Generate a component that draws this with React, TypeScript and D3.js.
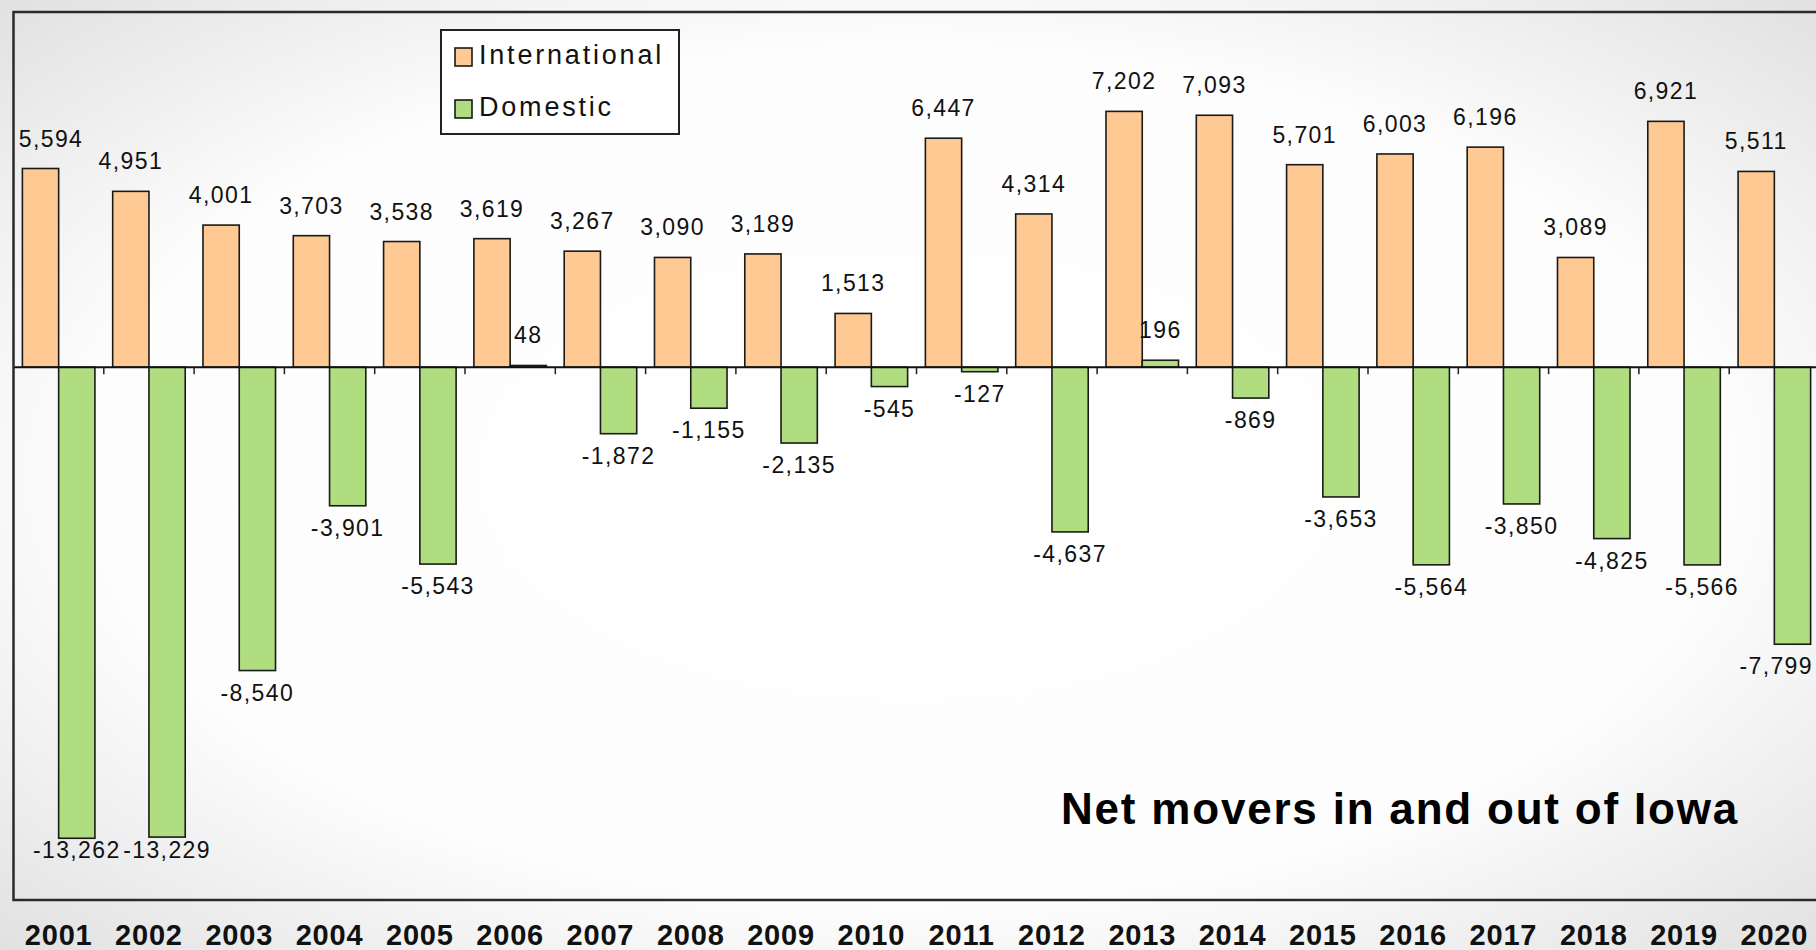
import * as d3 from "d3";

const years = ["2001", "2002", "2003", "2004", "2005", "2006", "2007", "2008", "2009", "2010",
  "2011", "2012", "2013", "2014", "2015", "2016", "2017", "2018", "2019", "2020"];
const international = [5594, 4951, 4001, 3703, 3538, 3619, 3267, 3090, 3189, 1513,
  6447, 4314, 7202, 7093, 5701, 6003, 6196, 3089, 6921, 5511];
const domestic = [-13262, -13229, -8540, -3901, -5543, 48, -1872, -1155, -2135, -545,
  -127, -4637, 196, -869, -3653, -5564, -3850, -4825, -5566, -7799];
const seriesNames = ["International", "Domestic"];
const seriesColors = ["#ffc994", "#b0dd80"];
const yDomain = [-15000, 10000];
const title = "Net movers in and out of Iowa";

const W = 1816;
const H = 950;
const plot = { left: 13.5, top: 12, bottom: 900, step: 90.3 };

// hyphen minus like the original, not U+2212
const locale = d3.formatLocale({ decimal: ".", thousands: ",", grouping: [3], currency: ["$", ""], minus: "-" });
const fmt = locale.format(",");

export default function App() {
  const x = d3.scaleBand()
    .domain(years)
    .range([plot.left, plot.left + plot.step * years.length]);
  const xs = d3.scaleBand()
    .domain(seriesNames)
    .range([0, x.bandwidth()])
    .paddingOuter(0.245);
  const y = d3.scaleLinear().domain(yDomain).range([plot.bottom, plot.top]);
  const y0 = y(0);

  const rows = years.map((yr, i) => ({ yr, vals: [international[i], domestic[i]] }));

  const labelX = (cx: number, txt: string) => {
    const half = txt.length * 6.3;
    return Math.min(Math.max(cx, plot.left + half + 6), W - half - 2);
  };

  return (
    <svg width={W} height={H} style={{ position: "absolute", left: 0, top: 0 }}
      fontFamily="'Liberation Sans', Arial, sans-serif">
      <defs>
        <radialGradient id="bg" cx="50%" cy="50%" r="75%">
          <stop offset="0%" stopColor="#ffffff" />
          <stop offset="60%" stopColor="#fdfdfd" />
          <stop offset="100%" stopColor="#dcdcdc" />
        </radialGradient>
      </defs>
      <rect x={0} y={0} width={W} height={H} fill="url(#bg)" />

      {/* bars */}
      {rows.map(r => (
        <g key={r.yr}>
          {r.vals.map((v, j) => {
            const bx = (x(r.yr) as number) + (xs(seriesNames[j]) as number);
            const top = Math.min(y(v), y0);
            return (
              <rect key={j} x={bx} y={top} width={xs.bandwidth()}
                height={Math.abs(y(v) - y0)} fill={seriesColors[j]}
                stroke="#1a1a1a" strokeWidth={1.6} />
            );
          })}
        </g>
      ))}

      {/* zero axis + ticks */}
      <line x1={plot.left} x2={W} y1={y0} y2={y0} stroke="#111" strokeWidth={2} />
      {years.slice(0, -1).map(yr => {
        const tx = (x(yr) as number) + x.bandwidth();
        return <line key={yr} x1={tx} x2={tx} y1={y0} y2={y0 + 7} stroke="#222" strokeWidth={1.5} />;
      })}

      {/* data labels */}
      {rows.map(r => r.vals.map((v, j) => {
        const cx = (x(r.yr) as number) + (xs(seriesNames[j]) as number) + xs.bandwidth() / 2;
        const txt = fmt(v);
        const ty = v >= 0 ? y(v) - 22 : Math.min(y(v) + 30, plot.bottom - 42);
        return (
          <text key={r.yr + j} x={labelX(cx, txt)} y={ty} textAnchor="middle"
            fontSize={23} letterSpacing={1.4} fill="#111">{txt}</text>
        );
      }))}

      {/* frame */}
      <rect x={plot.left} y={plot.top} width={W + 20} height={plot.bottom - plot.top}
        fill="none" stroke="#2a2a2a" strokeWidth={2.5} />

      {/* year labels */}
      {years.map(yr => (
        <text key={yr} x={(x(yr) as number) + x.bandwidth() / 2} y={945} textAnchor="middle"
          fontSize={29} fontWeight="bold" letterSpacing={0.8} fill="#111">{yr}</text>
      ))}

      {/* legend */}
      <g>
        <rect x={441} y={30} width={238} height={104} fill="#fff" stroke="#222" strokeWidth={2} />
        {seriesNames.map((s, i) => (
          <g key={s} transform={`translate(455, ${48 + i * 52})`}>
            <rect x={0} y={0} width={17} height={18} fill={seriesColors[i]} stroke="#1a1a1a" strokeWidth={1.6} />
            <text x={24} y={16} fontSize={27} letterSpacing={2.8} fill="#111">{s}</text>
          </g>
        ))}
      </g>

      {/* title */}
      <text x={1739} y={824} textAnchor="end" fontSize={44} fontWeight="bold"
        letterSpacing={1.8} fill="#000">{title}</text>
    </svg>
  );
}
